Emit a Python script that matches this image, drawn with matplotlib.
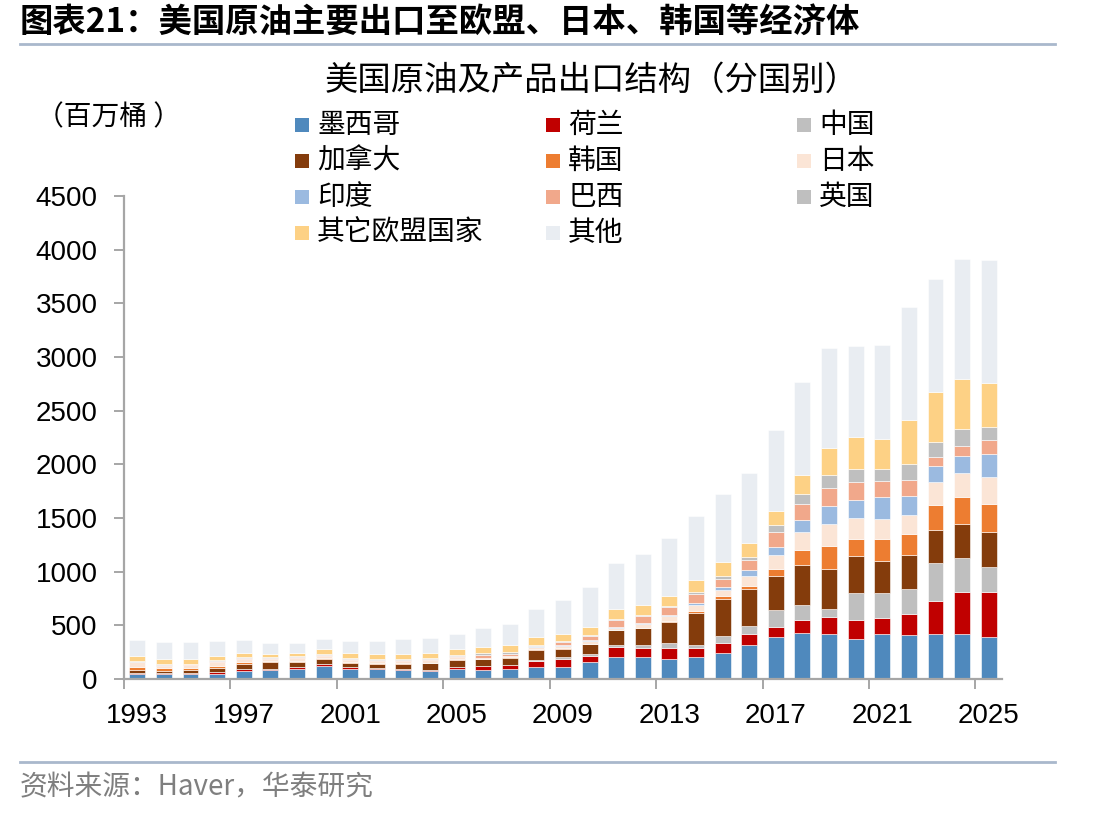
import numpy as np
import matplotlib
matplotlib.use("Agg")
import matplotlib.pyplot as plt
from matplotlib.lines import Line2D
from matplotlib.patches import Rectangle

plt.rcParams['font.family'] = ['Liberation Sans', 'Noto Sans CJK SC']
cjk = ['Noto Sans CJK SC', 'DejaVu Sans']

years = list(range(1993, 2026))

names = ["墨西哥", "荷兰", "中国", "加拿大", "韩国", "日本",
         "印度", "巴西", "英国", "其它欧盟国家", "其他"]
colors = ["#4F89BD", "#C00000", "#BFBFBF", "#843C0C", "#ED7D31", "#FBE5D6",
          "#9BBAE0", "#F1A88B", "#BFBFBF", "#FDD185", "#E9EDF2"]

# 百万桶
mexico = [45, 43, 45, 47, 71, 80, 93, 124, 96, 90, 84, 78, 93, 87, 96, 115, 115,
          155, 205, 208, 189, 201, 245, 316, 394, 428, 416, 375, 416, 410, 416, 422, 394]
netherlands = [15, 13, 15, 15, 22, 12, 19, 18, 16, 12, 9, 9, 15, 34, 31, 52, 71,
               62, 89, 77, 96, 84, 86, 99, 87, 124, 164, 171, 155, 198, 307, 391, 419]
china = [0, 0, 0, 0, 0, 0, 0, 0, 0, 0, 0, 0, 0, 0, 3, 6, 19,
         19, 23, 34, 53, 34, 66, 75, 164, 140, 74, 257, 226, 233, 360, 316, 235]
canada = [28, 21, 22, 37, 43, 63, 43, 44, 40, 34, 49, 58, 72, 62, 68, 93, 74,
          86, 136, 152, 195, 292, 353, 344, 317, 372, 373, 339, 307, 310, 307, 317, 323]
korea = [24, 28, 23, 25, 19, 9, 15, 6, 6, 9, 8, 7, 9, 7, 7, 13, 6,
         7, 6, 7, 10, 18, 19, 35, 65, 140, 214, 167, 202, 202, 233, 254, 255]
japan = [43, 19, 25, 37, 34, 22, 25, 25, 15, 23, 20, 21, 12, 10, 10, 19, 25,
         28, 19, 34, 44, 60, 62, 93, 130, 167, 205, 193, 184, 179, 214, 221, 255]
india = [0, 0, 0, 0, 0, 0, 0, 0, 0, 0, 0, 0, 0, 0, 0, 5, 7,
         6, 9, 9, 12, 21, 28, 49, 72, 115, 170, 170, 201, 177, 152, 161, 219]
brazil = [7, 8, 6, 6, 6, 8, 8, 8, 10, 9, 8, 10, 12, 20, 20, 7, 30,
          40, 59, 62, 71, 78, 72, 97, 142, 143, 168, 159, 155, 149, 81, 93, 128]
uk = [6, 8, 4, 6, 6, 7, 8, 8, 9, 9, 8, 9, 13, 19, 16, 6, 7,
      7, 13, 16, 10, 18, 31, 31, 66, 96, 118, 127, 115, 146, 142, 158, 124]
other_eu = [42, 49, 49, 44, 44, 35, 34, 49, 53, 50, 50, 53, 50, 55, 62, 78, 61,
            71, 89, 86, 89, 112, 124, 124, 130, 177, 251, 298, 276, 410, 463, 463, 409]
others = [153, 152, 158, 140, 121, 102, 93, 93, 105, 121, 136, 137, 143, 181, 202, 260, 320,
          376, 435, 484, 546, 602, 639, 658, 754, 866, 931, 847, 875, 1052, 1052, 1117, 1143]

series = [mexico, netherlands, china, canada, korea, japan,
          india, brazil, uk, other_eu, others]

fig = plt.figure(figsize=(11.12, 8.16), dpi=100)
W, H = 1112, 816

def fx(px):
    return px / W

def fy(py):
    return 1 - py / H

ax = fig.add_axes([fx(124), fy(679), fx(1002) - fx(124), fy(196) - fy(679)])

x = np.arange(len(years))
bottom = np.zeros(len(years))
for vals, c in zip(series, colors):
    vals = np.array(vals, dtype=float)
    ax.bar(x, vals, 0.6, bottom=bottom, color=c, edgecolor='white', linewidth=0.4)
    bottom += vals

ax.set_xlim(-0.5, len(years) - 0.5)
ax.set_ylim(0, 4500)
ax.set_yticks(np.arange(0, 4501, 500))
ax.set_xticks(x[::4])
ax.set_xticklabels([str(y) for y in years[::4]])
ax.set_xticks(np.arange(-0.5, len(years) - 1, 4), minor=True)

for s in ['top', 'right']:
    ax.spines[s].set_visible(False)
for s in ['left', 'bottom']:
    ax.spines[s].set_color('#A6A6A6')
    ax.spines[s].set_linewidth(1.6)

ax.tick_params(axis='y', direction='out', length=7, width=1.4, color='#A6A6A6',
               labelsize=20, pad=12)
ax.tick_params(axis='x', which='major', length=0, labelsize=20, pad=17)
ax.tick_params(axis='x', which='minor', direction='out', length=7, width=1.4,
               color='#A6A6A6')

# header and footer
fig.text(fx(20), fy(22), "图表21：美国原油主要出口至欧盟、日本、韩国等经济体",
         family=cjk, fontsize=24, fontweight='bold', va='center', ha='left')
fig.add_artist(Line2D([fx(20), fx(1055)], [fy(44), fy(44)], color='#A9B8CC', lw=2))
fig.text(fx(592), fy(80), "美国原油及产品出口结构（分国别）", family=cjk,
         fontsize=24, va='center', ha='center')
fig.text(fx(36), fy(117), "（百万桶 ）", family=cjk, fontsize=20,
         va='center', ha='left')
fig.add_artist(Line2D([fx(20), fx(1055)], [fy(762), fy(762)], color='#A9B8CC', lw=2))
fig.text(fx(20), fy(787), "资料来源：Haver，华泰研究", family=cjk, fontsize=20,
         color='#7F7F7F', va='center', ha='left')

# legend, row by row in three columns
col_x = [295, 546, 797]
row_y = [125, 161, 197, 233]
for i, (name, c) in enumerate(zip(names, colors)):
    r, k = divmod(i, 3)
    fig.add_artist(Rectangle((fx(col_x[k]), fy(row_y[r] + 7)), fx(14), 14 / H,
                             facecolor=c, edgecolor='none'))
    fig.text(fx(col_x[k] + 22), fy(row_y[r]), name, family=cjk, fontsize=20,
             va='center', ha='left')

fig.savefig("out.png", dpi=100)
